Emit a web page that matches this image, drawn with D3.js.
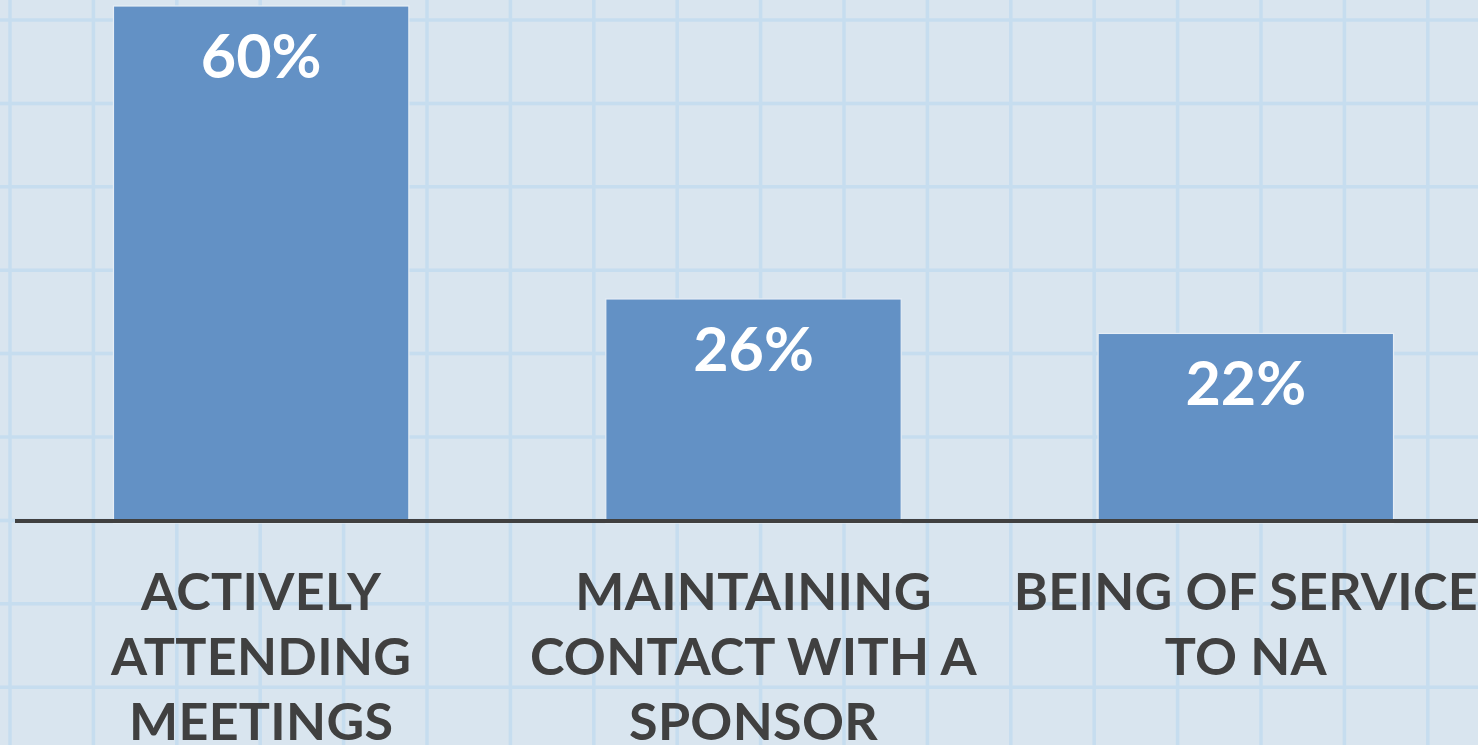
<!DOCTYPE html>
<html>
<head>
<meta charset="utf-8">
<script src="https://cdn.jsdelivr.net/npm/d3@7"></script>
<style>
  html, body { margin: 0; padding: 0; background: #d9e5ef; overflow: hidden; }
  svg { display: block; }
</style>
</head>
<body>
<svg id="chart" width="1478" height="745"></svg>
<script>
// ---- data ----
const categories = [
  ["ACTIVELY", "ATTENDING", "MEETINGS"],
  ["MAINTAINING", "CONTACT WITH A", "SPONSOR"],
  ["BEING OF SERVICE", "TO NA"]
];
const values = [60, 26, 22];
const valueLabels = ["60%", "26%", "22%"];

// ---- layout ----
const W = 1478, H = 745;
const svg = d3.select("#chart");

// background graph-paper grid
svg.append("rect").attr("width", W).attr("height", H).attr("fill", "#d9e5ef");
const gridStep = 83.4;
const gridV = d3.range(10, W + 1, gridStep);
const gridH = d3.range(20, H + 1, gridStep);
const grid = svg.append("g").attr("stroke", "#c3dcef").attr("stroke-width", 3.5).attr("opacity", 0.85);
grid.selectAll("line.v").data(gridV).join("line")
  .attr("x1", d => d).attr("x2", d => d).attr("y1", 0).attr("y2", H);
grid.selectAll("line.h").data(gridH).join("line")
  .attr("y1", d => d).attr("y2", d => d).attr("x1", 0).attr("x2", W);

const x = d3.scaleBand()
  .domain(d3.range(values.length))
  .range([15, 1492])
  .paddingInner(0.4)
  .paddingOuter(0.2);

const y = d3.scaleLinear().domain([0, 60]).range([523, 6]);

// bars
svg.append("g").selectAll("rect").data(values).join("rect")
  .attr("x", (d, i) => x(i))
  .attr("width", x.bandwidth())
  .attr("y", d => y(d))
  .attr("height", d => y(0) - y(d))
  .attr("fill", "#6391c5")
  .attr("stroke", "#e6eef6")
  .attr("stroke-width", 1.2);

// value labels
svg.append("g").selectAll("text").data(values).join("text")
  .attr("x", (d, i) => x(i) + x.bandwidth() / 2)
  .attr("y", d => y(d) + 72)
  .attr("text-anchor", "middle")
  .attr("fill", "#ffffff")
  .attr("font-family", "Lato, 'DejaVu Sans', sans-serif")
  .attr("font-weight", 700)
  .attr("font-size", 61)
  .text((d, i) => valueLabels[i]);

// axis line
svg.append("line")
  .attr("x1", 15).attr("x2", W)
  .attr("y1", 521).attr("y2", 521)
  .attr("stroke", "#404040")
  .attr("stroke-width", 4);

// category labels
const lab = svg.append("g").selectAll("text").data(categories).join("text")
  .attr("text-anchor", "middle")
  .attr("fill", "#404040")
  .attr("font-family", "Lato, 'DejaVu Sans', sans-serif")
  .attr("font-weight", 700)
  .attr("font-size", 52)
  .attr("letter-spacing", 0.3);
lab.each(function(lines, i) {
  const t = d3.select(this);
  lines.forEach((ln, j) => {
    t.append("tspan")
      .attr("x", x(i) + x.bandwidth() / 2)
      .attr("y", 610 + j * 65)
      .text(ln);
  });
});
</script>
</body>
</html>
